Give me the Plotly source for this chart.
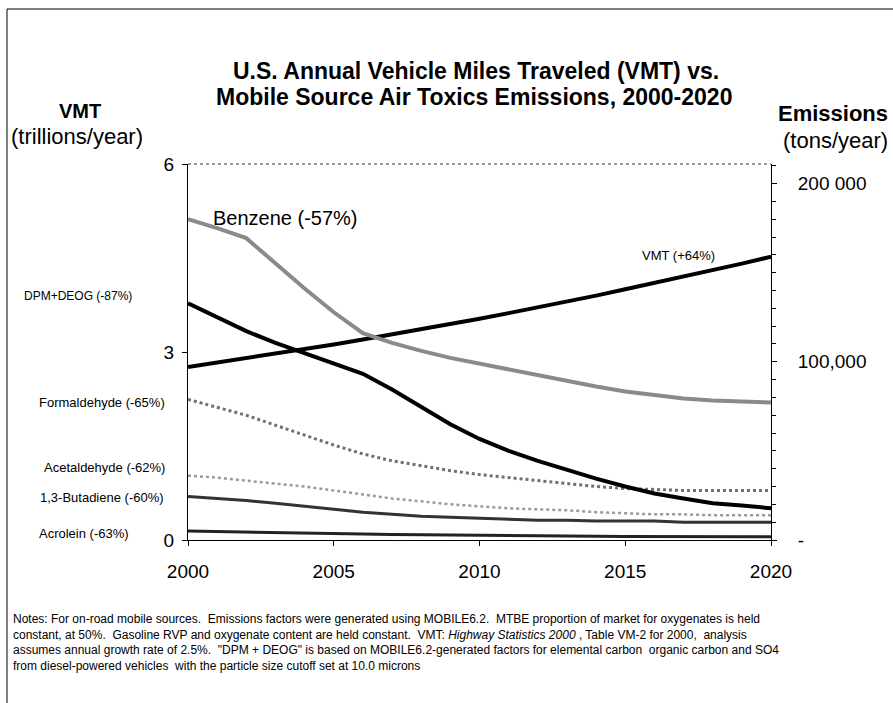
import plotly.graph_objects as go

years = list(range(2000, 2021))

vmt = [2.76, 2.83, 2.90, 2.97, 3.05, 3.12, 3.20, 3.28, 3.36, 3.45, 3.53,
       3.62, 3.71, 3.80, 3.90, 4.00, 4.10, 4.20, 4.30, 4.41, 4.52]

benzene = [180000, 175000, 169400, 155000, 141100, 127800, 116100, 110600, 106100, 102200, 98900,
           95600, 92800, 89400, 86100, 83300, 81100, 79400, 78300, 77800, 77200]
dpm = [132800, 125000, 117200, 110600, 105000, 99400, 93300, 84400, 74400, 65000, 56700,
       50000, 44400, 39400, 34400, 30000, 26100, 23300, 20600, 19400, 17800]
formaldehyde = [78900, 74400, 70000, 64400, 58900, 53300, 48300, 44400, 41700, 38900, 36700,
                35000, 33300, 31700, 30000, 28900, 28300, 27800, 27800, 27800, 27800]
acetaldehyde = [36100, 35000, 33300, 31700, 30000, 27800, 25600, 23300, 21700, 20000, 18900,
                17800, 17200, 16700, 15600, 15000, 14400, 14400, 13900, 13900, 13900]
butadiene = [24400, 23300, 22200, 20600, 18900, 17200, 15600, 14400, 13300, 12800, 12200,
             11700, 11100, 11100, 10600, 10600, 10600, 10000, 10000, 10000, 10000]
acrolein = [5000, 4800, 4600, 4300, 4000, 3700, 3400, 3100, 2900, 2700, 2500,
            2400, 2300, 2200, 2100, 2000, 2000, 1900, 1900, 1900, 1850]

x_ticks = [2000, 2005, 2010, 2015, 2020]
left_ticks = [0, 3, 6]
right_tickvals = [0, 100000, 200000]
right_ticktext = ["-", "100,000", "200 000"]

W, H = 893, 703
L, R, T, B = 188, 771, 164, 540  # plot area in pixels

def px(xp):
    return (xp - L) / (R - L)

def py(yp):
    return (B - yp) / (B - T)

FONT = "Arial, Liberation Sans, sans-serif"

fig = go.Figure()

series = [
    (benzene, "Benzene", "#8a8a8a", 4, "solid"),
    (formaldehyde, "Formaldehyde", "#707070", 3, "dot"),
    (acetaldehyde, "Acetaldehyde", "#9a9a9a", 2.5, "dot"),
    (butadiene, "1,3-Butadiene", "#333333", 3, "solid"),
    (acrolein, "Acrolein", "#222222", 3, "solid"),
    (dpm, "DPM+DEOG", "#000000", 4, "solid"),
]
for vals, name, color, w, dash in series:
    fig.add_trace(go.Scatter(x=years, y=vals, mode="lines", name=name, yaxis="y2",
                             line=dict(color=color, width=w, dash=dash)))

fig.add_trace(go.Scatter(x=years, y=vmt, mode="lines", name="VMT", yaxis="y",
                         line=dict(color="#000000", width=4)))

fig.update_layout(
    width=W, height=H,
    margin=dict(l=L, r=W - R, t=T, b=H - B),
    paper_bgcolor="white", plot_bgcolor="white",
    showlegend=False,
    font=dict(family=FONT, color="black"),
    xaxis=dict(range=[2000, 2020], tickvals=x_ticks, ticks="outside", ticklen=5,
               tickcolor="black", showline=True, linecolor="black", linewidth=1,
               showgrid=False, zeroline=False, tickfont=dict(size=19),
               ticklabelstandoff=9),
    yaxis=dict(range=[0, 6], tickvals=left_ticks, ticks="outside", ticklen=5,
               tickcolor="black", showline=True, linecolor="black", linewidth=1,
               showgrid=False, zeroline=False, tickfont=dict(size=19),
               ticklabelstandoff=4),
    yaxis2=dict(range=[0, 211000], overlaying="y", side="right",
                tickvals=right_tickvals, ticktext=right_ticktext,
                ticks="outside", ticklen=5, tickcolor="black",
                minor=dict(dtick=10000, ticks="outside", ticklen=4, tickcolor="black"),
                showline=True, linecolor="black", linewidth=1,
                showgrid=False, zeroline=False, tickfont=dict(size=19),
                ticklabelstandoff=17),
)

# top dotted border of plot area
fig.add_shape(type="line", xref="paper", yref="paper", x0=0, x1=1, y0=1, y1=1,
              line=dict(color="#333333", width=1, dash="dot"))
# page frame (left and top)
fig.add_shape(type="line", xref="paper", yref="paper", x0=px(7), x1=px(7), y0=py(9), y1=py(703),
              line=dict(color="black", width=1))
fig.add_shape(type="line", xref="paper", yref="paper", x0=px(7), x1=px(893), y0=py(9), y1=py(9),
              line=dict(color="black", width=1))

def ann(text, x, y, size, xanchor="center", yanchor="middle", bold=False, align="center"):
    fig.add_annotation(text=("<b>%s</b>" % text) if bold else text,
                       xref="paper", yref="paper", x=px(x), y=py(y),
                       xanchor=xanchor, yanchor=yanchor, showarrow=False, align=align,
                       font=dict(family=FONT, size=size, color="black"))

ann("U.S. Annual Vehicle Miles Traveled (VMT) vs.", 476, 71, 23, bold=True)
ann("Mobile Source Air Toxics Emissions, 2000-2020", 474, 97, 23, bold=True)
ann("VMT", 80, 111, 20, bold=True)
ann("(trillions/year)", 77, 137, 22)
ann("Emissions", 833, 114, 22, bold=True)
ann("(tons/year)", 835, 140, 22)

ann("Benzene (-57%)", 211, 218, 20, xanchor="left")
ann("VMT (+64%)", 640, 255, 13, xanchor="left")
ann("DPM+DEOG (-87%)", 134, 296, 12, xanchor="right")
ann("Formaldehyde (-65%)", 167, 402, 13, xanchor="right")
ann("Acetaldehyde (-62%)", 167, 467, 13, xanchor="right")
ann("1,3-Butadiene (-60%)", 166, 497, 13, xanchor="right")
ann("Acrolein (-63%)", 131, 533, 13, xanchor="right")

notes = ("Notes: For on-road mobile sources.  Emissions factors were generated using MOBILE6.2.  "
         "MTBE proportion of market for oxygenates is held<br>"
         "constant, at 50%.  Gasoline RVP and oxygenate content are held constant.  VMT: "
         "<i>Highway Statistics 2000</i> , Table VM-2 for 2000,  analysis<br>"
         "assumes annual growth rate of 2.5%.  \"DPM + DEOG\" is based on MOBILE6.2-generated "
         "factors for elemental carbon  organic carbon and SO4<br>"
         "from diesel-powered vehicles  with the particle size cutoff set at 10.0 microns")
ann(notes, 11, 610, 12, xanchor="left", yanchor="top", align="left")

fig.write_html("out.html", config={"displayModeBar": False},
               post_script="document.body.style.margin='0px';document.body.style.overflow='hidden';")
